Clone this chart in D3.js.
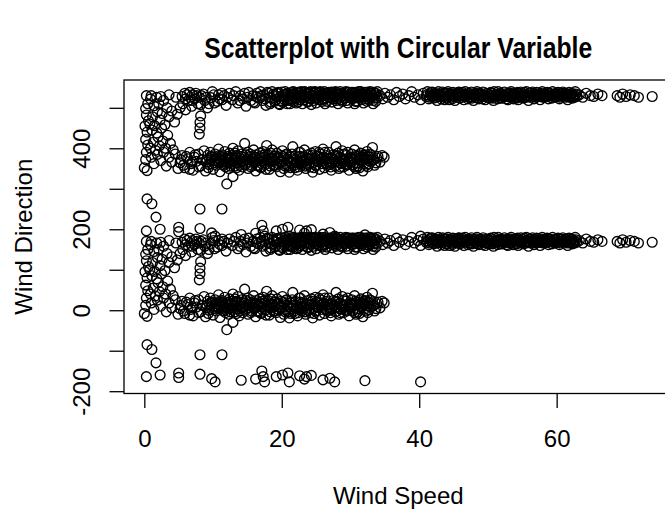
<!DOCTYPE html>
<html>
<head>
<meta charset="utf-8">
<script src="https://cdn.jsdelivr.net/npm/d3@7"></script>
<style>
  body { margin: 0; background: #fff; }
  svg { display: block; font-family: "Liberation Sans", Arial, sans-serif; }
</style>
</head>
<body>
<svg width="665" height="514"></svg>
<script>
// raw observations: [wind speed, wind direction in degrees (-180, 180]]
// every point is drawn twice, at its direction and at direction + 360

const southTail = [
	[0.3,-164],[0.4,-85],[1.1,-97],[1.7,-130],[2.3,-160],[5.0,-155],[5.0,-166],[8.1,-110],
	[8.1,-158],[9.8,-169],[10.3,-177],[11.3,-110],[14.1,-173],[16.2,-170],[17.1,-150],[17.3,-164],
	[17.5,-177],[19.2,-164],[20.1,-160],[20.9,-155],[21.1,-177],[22.6,-162],[23.3,-170],[23.6,-164],
	[24.3,-161],[26.0,-172],[27.0,-168],[27.7,-177],[32.1,-174],[40.2,-177]
];

const lowSpeedArms = [
	[0.0,-8],[0.2,12],[0.4,-15],[0.3,30],[0.5,48],[0.2,62],[0.4,80],[0.1,95],[0.6,108],[0.3,122],[0.2,138],[0.5,150],[0.3,170],
	[0.9,40],[1.3,55],[1.6,35],[2.0,68],[2.2,46],[2.7,58],[3.1,40],[3.4,72],[1.1,85],[1.8,78],[2.5,90],[3.8,52],[4.2,36],
	[0.8,100],[1.2,118],[1.5,96],[1.9,130],[2.3,110],[2.6,126],[3.0,98],[3.3,140],[3.6,118],[4.0,132],[4.4,105],[4.8,124],
	[5.2,140],[1.4,145],[2.1,150],[2.8,158],[0.9,162],[1.8,166],
	[1.0,170],[2.4,168],[3.6,172],[4.6,166],[5.9,176],[7.0,172],[8.0,166],
	[5.6,150],[6.0,135],[6.4,158],[6.9,144],[7.3,162],[7.8,150],[8.3,170],[8.8,158],[9.2,140],[9.7,165],[10.2,152],
	[10.8,172],[11.3,160],[6.2,172],[7.5,176],
	[8.1,104],[8.1,90],[8.0,75],[8.2,120],
	[1.0,18],[1.4,2],[1.9,25],[2.4,10],[2.8,30],[3.2,-4],[3.6,18],[4.0,6],[4.5,26],[4.9,-10],[5.3,12],[5.7,-2],
	[6.1,20],[6.6,-12],[7.0,6],[7.4,24],[7.9,-6]
];

const band10 = [
	[5.2,4],[5.5,22],[5.9,-8],[6.3,14],[6.6,30],[6.8,2],[7.1,-14],[7.3,18],[7.6,8],[7.9,26],[8.2,-4],[8.4,12],[8.7,34],[8.9,-16],
	[9.0,6],[9.2,22],[9.3,-8],[9.5,14],[9.6,30],[9.8,2],[9.9,18],[10.0,-12],[10.2,10],[10.3,26],[10.5,-2],[10.6,16],[10.8,38],[10.9,4],
	[11.0,-18],[11.1,12],[11.3,24],[11.4,0],[11.5,8],[11.7,32],[11.8,-6],[11.9,16],
	[12.0,-48],[12.1,6],[12.2,20],[12.3,-10],[12.4,28],[12.6,2],[12.7,14],[12.9,-30],[12.9,40],
	[13.0,10],[13.2,-4],[13.3,22],[13.5,4],[13.6,34],[13.8,-14],[13.9,16],
	[14.0,8],[14.2,26],[14.3,-6],[14.5,18],[14.6,52],[14.7,0],[14.9,12],
	[15.0,30],[15.1,-10],[15.3,6],[15.4,20],[15.6,-2],[15.7,14],[15.9,36],
	[16.0,4],[16.2,-16],[16.3,24],[16.5,10],[16.6,-4],[16.8,28],[16.9,16],
	[17.0,-8],[17.1,8],[17.3,32],[17.4,18],[17.6,0],[17.8,47],[17.9,12],
	[18.0,24],[18.2,-12],[18.3,6],[18.5,16],[18.6,36],[18.8,-2],[18.9,20],
	[19.0,10],[19.2,-6],[19.3,28],[19.5,2],[19.6,14],[19.8,-18],[19.9,22],
	[20.0,6],[20.1,34],[20.3,-10],[20.4,16],[20.6,0],[20.7,26],[20.9,10],
	[21.0,-4],[21.1,-19],[21.3,18],[21.4,4],[21.6,44],[21.7,12],[21.9,-8],
	[22.0,22],[22.2,8],[22.3,-14],[22.5,30],[22.6,2],[22.8,14],[22.9,-2],
	[23.0,18],[23.2,6],[23.3,36],[23.5,-10],[23.6,10],[23.8,24],[23.9,0],
	[24.0,12],[24.2,-6],[24.3,28],[24.5,-19],[24.6,4],[24.8,16],[24.9,32],
	[25.0,-2],[25.2,20],[25.3,8],[25.5,-12],[25.6,26],[25.8,2],[25.9,14],
	[26.0,38],[26.2,-8],[26.3,10],[26.5,22],[26.6,-2],[26.8,30],[26.9,6],
	[27.0,16],[27.2,-14],[27.3,4],[27.5,24],[27.6,12],[27.9,44],[27.8,-4],
	[28.0,8],[28.2,28],[28.3,-10],[28.5,18],[28.6,2],[28.8,34],[28.9,14],
	[29.0,-6],[29.2,10],[29.3,22],[29.5,0],[29.6,30],[29.8,-14],[29.9,16],
	[30.0,6],[30.2,26],[30.3,-2],[30.5,12],[30.6,36],[30.8,-10],[30.9,20],
	[31.0,4],[31.2,16],[31.3,-8],[31.5,28],[31.6,8],[31.8,-16],[31.9,22],
	[32.0,2],[32.2,14],[32.4,32],[32.5,-6],[32.7,18],[32.9,8],
	[33.0,24],[33.2,10],[33.2,42],[33.5,-2],[33.8,16],
	[34.0,20],[34.3,6],[34.6,22],[34.9,18],
	[9.1,12],[9.4,0],[9.7,20],[10.1,4],[10.4,16],[10.7,8],[11.2,20],[11.6,-2],[11.9,6],[12.2,12],[12.5,-4],
	[12.8,22],[13.1,16],[13.4,-8],[13.7,10],[14.1,20],[14.4,2],[14.8,24],[15.2,14],[15.5,-6],[15.8,8],
	[16.1,18],[16.4,-2],[16.7,12],[17.2,22],[17.5,4],[17.7,-12],[18.1,14],[18.4,28],[18.7,8],[19.1,-2],
	[19.4,18],[19.7,6],[20.2,20],[20.5,-4],[20.8,14],[21.2,8],[21.5,26],[21.8,-2],[22.1,12],[22.4,-6],
	[22.7,20],[23.1,10],[23.4,-4],[23.7,16],[24.1,4],[24.4,22],[24.7,-8],[25.1,8],[25.4,30],[25.7,12],
	[26.1,18],[26.4,2],[26.7,14],[27.1,-6],[27.4,16],[27.7,6],[28.1,20],[28.4,4],[28.7,10],[29.1,26],
	[29.4,-2],[29.7,12],[30.1,16],[30.4,0],[30.7,22],[31.1,-4],[31.4,12],[31.7,18],[32.1,24],[32.3,-2],
	[32.6,10],[32.8,26],[33.4,12],[33.7,4],
	[10.9,22],[11.4,14],[12.4,4],[13.2,28],[13.9,-2],[14.6,10],[15.4,26],[16.2,6],[16.9,-6],[17.6,26],
	[18.3,-4],[19.0,20],[19.8,8],[20.6,24],[21.3,-8],[22.0,4],[22.7,30],[23.5,2],[24.2,14],[24.9,-2],
	[25.6,18],[26.3,30],[27.0,0],[27.8,22],[28.5,-6],[29.2,2],[29.9,8],[30.6,-6],[31.3,24],[32.0,16],[32.7,2]
];

const band170 = [
	[5.5,168],[6.6,178],[7.0,158],[8.6,174],[9.4,150],[9.9,180],[10.6,156],[11.6,170],[11.9,146],[12.4,176],
	[12.8,160],[13.3,180],[13.6,152],[14.0,170],[14.4,162],[14.8,144],[15.2,178],[15.5,158],[15.8,170],
	[6.0,162],[7.6,170],[8.2,148],[9.0,166],[10.1,172],[11.0,162],[11.3,176],[12.1,166],[13.0,170],[13.9,158],
	[14.6,176],[15.0,166],[15.9,154],[16.3,168],[17.0,170],[17.6,162],
	[16.1,152],[16.4,176],[16.6,164],[16.9,180],[17.2,158],[17.4,172],[17.7,146],[17.9,178],[18.2,166],
	[18.4,154],[18.6,180],[18.9,170],[19.1,160],[19.3,176],[19.6,150],[19.8,168],[20.0,179],
	[20.2,172],[20.4,160],[20.5,180],[20.7,166],[20.9,176],[20.8,150],
	[21.1,170],[21.3,158],[21.5,179],[21.6,164],[21.8,176],[21.9,168],
	[22.1,162],[22.3,178],[22.4,154],[22.6,170],[22.8,180],[22.9,166],
	[23.0,174],[23.2,160],[23.4,179],[23.5,168],[23.7,156],[23.9,178],
	[24.1,166],[24.2,180],[24.4,172],[24.6,158],[24.7,176],[24.9,164],
	[25.0,179],[25.2,170],[25.4,160],[25.5,178],[25.7,168],[25.9,174],
	[26.1,162],[26.2,180],[26.4,170],[26.6,156],[26.7,176],[26.9,166],
	[27.0,172],[27.2,179],[27.4,162],[27.5,174],[27.7,168],[27.9,158],
	[28.0,178],[28.2,166],[28.4,172],[28.5,180],[28.7,160],[28.9,170],
	[29.1,164],[29.2,176],[29.4,158],[29.6,170],[29.7,179],[29.9,166],
	[30.0,174],[30.2,162],[30.4,178],[30.5,168],[30.7,156],[30.9,172],
	[31.1,166],[31.2,180],[31.4,170],[31.6,160],[31.7,176],[31.9,168],
	[32.0,172],[32.3,162],[32.5,179],[32.6,170],[32.8,164],[32.9,176],
	[33.1,168],[33.3,158],[33.4,178],[33.6,172],[33.8,166],[33.9,180],
	[18.1,176],[18.5,164],[18.8,174],[19.2,168],[19.5,178],[19.9,158],[20.3,168],[20.6,174],[21.0,162],[21.4,174],
	[21.7,156],[22.0,172],[22.2,166],[22.5,176],[22.7,160],[23.1,168],[23.3,172],[23.6,176],[23.8,164],[24.0,174],
	[24.3,162],[24.5,168],[24.8,180],[25.1,164],[25.3,176],[25.6,172],[25.8,160],[26.0,170],[26.3,176],[26.5,164],
	[26.8,172],[27.1,166],[27.3,178],[27.6,170],[27.8,176],[28.1,162],[28.3,174],[28.6,168],[28.8,176],[29.0,170],
	[29.3,166],[29.5,178],[29.8,172],[30.1,168],[30.3,176],[30.6,164],[30.8,178],[31.0,170],[31.3,164],[31.5,174],
	[31.8,172],[32.1,178],[32.2,168],[32.4,174],[32.7,160],[33.0,176],[33.2,170],[33.5,164],[33.7,176],
	[18.3,150],[19.0,156],[19.7,148],[20.1,154],[20.9,158],[21.2,150],[21.7,180],[22.1,152],[22.6,178],[23.0,150],
	[23.3,180],[23.8,154],[24.3,148],[24.6,178],[25.0,152],[25.6,180],[25.9,156],[26.3,150],[26.8,178],[27.3,154],
	[27.8,180],[28.2,150],[28.8,156],[29.3,180],[29.6,152],[30.2,178],[30.6,150],[31.0,156],[31.5,180],[31.9,152],
	[32.4,156],[32.9,180],[33.3,150],[33.7,156],
	[34.3,170],[34.7,162],[35.0,176],[35.4,166],[35.8,172],[36.3,160],[36.7,178],[37.1,168],
	[37.6,174],[38.0,162],[38.5,170],[38.9,180],[39.3,166],[39.8,172],[40.2,160],[40.6,176],
	[41.0,168],[41.2,180],[41.4,162],[41.6,174],[41.8,170],[41.9,179],
	[42.1,164],[42.3,176],[42.4,170],[42.6,158],[42.8,180],[42.9,168],
	[43.1,174],[43.2,162],[43.4,179],[43.6,168],[43.8,176],[43.9,164],
	[44.0,170],[44.2,180],[44.4,160],[44.5,174],[44.7,166],[44.9,178],
	[45.1,168],[45.2,158],[45.4,176],[45.6,172],[45.8,179],[45.9,164],
	[46.0,176],[46.2,166],[46.4,172],[46.5,160],[46.7,180],[46.9,170],
	[47.1,162],[47.3,176],[47.4,168],[47.6,179],[47.8,172],[47.9,158],
	[48.0,174],[48.2,166],[48.4,180],[48.6,170],[48.7,162],[48.9,176],
	[49.1,168],[49.3,179],[49.4,172],[49.6,160],[49.8,176],[49.9,166],
	[50.1,174],[50.2,164],[50.4,178],[50.6,170],[50.8,158],[50.9,180],
	[51.0,166],[51.2,174],[51.4,162],[51.5,180],[51.7,170],[51.9,176],
	[52.1,164],[52.3,172],[52.4,179],[52.6,168],[52.8,176],[52.9,160],
	[53.0,174],[53.2,166],[53.4,180],[53.6,170],[53.7,162],[53.9,176],
	[54.1,168],[54.3,178],[54.4,160],[54.6,172],[54.8,179],[54.9,166],
	[55.1,174],[55.2,164],[55.4,170],[55.6,180],[55.8,168],[55.9,158],
	[56.0,176],[56.2,166],[56.4,172],[56.5,179],[56.7,162],[56.9,170],
	[57.1,178],[57.3,168],[57.4,174],[57.6,160],[57.8,172],[57.9,180],
	[58.0,166],[58.2,174],[58.4,170],[58.6,178],[58.8,162],[58.9,176],
	[59.1,170],[59.3,164],[59.4,180],[59.6,172],[59.8,166],[59.9,176],
	[60.1,168],[60.2,178],[60.4,162],[60.6,174],[60.8,170],[60.9,179],
	[61.1,166],[61.3,176],[61.4,170],[61.6,160],[61.8,178],[61.9,168],
	[62.1,174],[62.3,164],[62.5,172],[62.7,180],[62.9,168],
	[41.1,172],[41.5,166],[41.7,178],[42.0,170],[42.2,172],[42.5,166],[42.7,174],[43.0,168],[43.3,170],[43.5,176],
	[43.7,160],[44.1,176],[44.3,168],[44.6,172],[44.8,162],[45.0,174],[45.3,170],[45.5,166],[45.7,178],[46.1,170],
	[46.3,178],[46.6,168],[46.8,174],[47.0,170],[47.2,166],[47.5,172],[47.7,164],[48.1,170],[48.3,176],[48.5,164],
	[48.8,172],[49.0,174],[49.2,162],[49.5,168],[49.7,170],[50.0,166],[50.3,172],[50.5,176],[50.7,164],[51.1,170],
	[51.3,168],[51.6,174],[51.8,164],[52.0,174],[52.2,168],[52.5,170],[52.7,162],[53.1,170],[53.3,176],[53.5,166],
	[53.8,172],[54.0,174],[54.2,164],[54.5,176],[54.7,168],[55.0,170],[55.3,178],[55.5,166],[55.7,172],[56.1,170],
	[56.3,176],[56.6,168],[56.8,174],[57.0,166],[57.2,172],[57.5,168],[57.7,176],[58.1,170],[58.3,166],[58.5,174],
	[58.7,168],[59.0,176],[59.2,172],[59.5,168],[59.7,174],[60.0,172],[60.3,170],[60.5,166],[60.7,176],[61.0,172],
	[61.2,170],[61.5,174],[61.7,166],[62.0,170],[62.2,176],[62.4,168],[62.6,166],[62.8,174],
	[63.3,172],[63.8,166],[64.3,176],[64.9,170],[65.4,168],[66.0,174],[66.6,170],
	[68.8,170],[69.2,166],[69.6,174],[70.1,168],[70.7,172],[71.3,170],[71.9,166],[73.9,168]
];

const xTicks = [0, 20, 40, 60];
const yTicks = [-200, -100, 0, 100, 200, 300, 400, 500];
const yLabelled = [-200, 0, 200, 400];

const svg = d3.select("svg"),
	width = +svg.attr("width"),
	height = +svg.attr("height");

const plot = { left: 124, top: 80, right: 672.5, bottom: 393.5 };

const obs = [...southTail, ...lowSpeedArms, ...band10, ...band170];
const points = obs.flatMap(([s, d]) => [{ s, d }, { s, d: d + 360 }]);

// R style 4% padding on both ends of each axis
function padded(ext) {
	const p = (ext[1] - ext[0]) * 0.04;
	return [ext[0] - p, ext[1] + p];
}

const x = d3.scaleLinear()
	.domain(padded(d3.extent(points, d => d.s)))
	.range([plot.left, plot.right]);

const y = d3.scaleLinear()
	.domain(padded(d3.extent(points, d => d.d)))
	.range([plot.bottom, plot.top]);

svg.append("g")
	.selectAll("circle")
	.data(points)
	.join("circle")
	.attr("cx", d => x(d.s))
	.attr("cy", d => y(d.d))
	.attr("r", 4.9)
	.attr("fill", "none")
	.attr("stroke", "#000")
	.attr("stroke-width", 1.35);

// box
svg.append("rect")
	.attr("x", plot.left)
	.attr("y", plot.top)
	.attr("width", plot.right - plot.left)
	.attr("height", plot.bottom - plot.top)
	.attr("fill", "none")
	.attr("stroke", "#000")
	.attr("stroke-width", 1.3);

const xAxis = svg.append("g")
	.attr("transform", `translate(0,${plot.bottom})`)
	.call(d3.axisBottom(x).tickValues(xTicks).tickSize(14.5).tickPadding(0).tickFormat(String));
xAxis.select(".domain").remove();
xAxis.selectAll("line").attr("stroke-width", 1.3);
xAxis.selectAll("text")
	.attr("dy", null)
	.attr("y", 53)
	.attr("font-size", 24)
	.attr("font-family", "Liberation Sans, Arial, sans-serif")
	.attr("fill", "#000");

const yAxis = svg.append("g")
	.attr("transform", `translate(${plot.left},0)`)
	.call(d3.axisLeft(y).tickValues(yTicks).tickSize(14.5)
		.tickFormat(d => yLabelled.includes(d) ? String(d) : ""));
yAxis.select(".domain").remove();
yAxis.selectAll("line").attr("stroke-width", 1.3);
yAxis.selectAll("text")
	.attr("x", null)
	.attr("dy", null)
	.attr("transform", "translate(-34,0) rotate(-90)")
	.attr("text-anchor", "middle")
	.attr("font-size", 24)
	.attr("font-family", "Liberation Sans, Arial, sans-serif")
	.attr("fill", "#000");

const midX = (plot.left + plot.right) / 2;
const midY = (plot.top + plot.bottom) / 2;

svg.append("text")
	.attr("x", midX)
	.attr("y", 58)
	.attr("text-anchor", "middle")
	.attr("font-size", 28.8)
	.attr("font-weight", "bold")
	.attr("textLength", 388)
	.attr("lengthAdjust", "spacingAndGlyphs")
	.text("Scatterplot with Circular Variable");

svg.append("text")
	.attr("x", midX)
	.attr("y", 504)
	.attr("text-anchor", "middle")
	.attr("font-size", 24)
	.text("Wind Speed");

svg.append("text")
	.attr("transform", `translate(32,${midY}) rotate(-90)`)
	.attr("text-anchor", "middle")
	.attr("font-size", 24)
	.text("Wind Direction");
</script>
</body>
</html>
